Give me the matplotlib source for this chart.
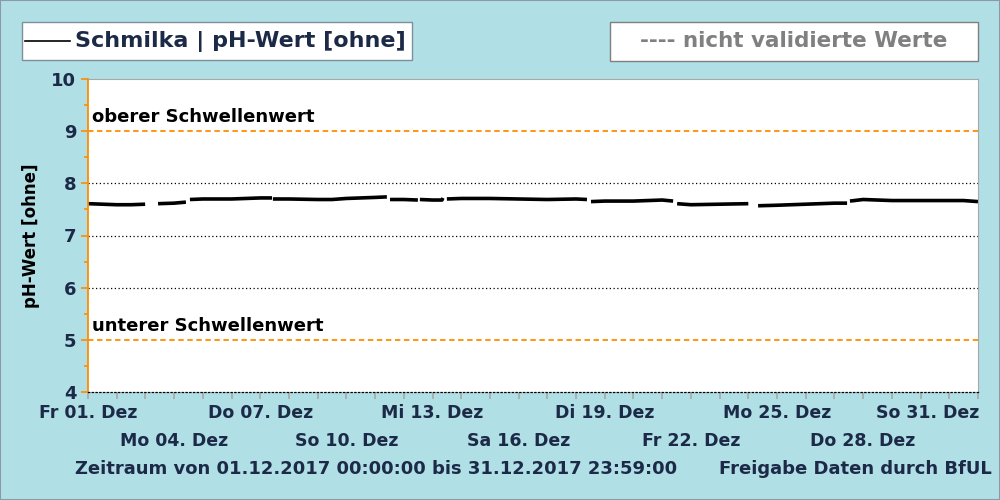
import matplotlib
matplotlib.use("Agg")
import matplotlib.pyplot as plt
import matplotlib.dates as mdates
from matplotlib.transforms import ScaledTranslation
from matplotlib.patches import Rectangle
from matplotlib.lines import Line2D
import numpy as np
import pandas as pd

# --- data (days after 01.12.2017 00:00, pH value); nan = gap in the record
days = [0.0, 0.5, 1.0, 1.5, 1.99, np.nan,
        2.44, 3.0, 3.41, np.nan,
        3.55, 4.0, 5.0, 5.5, 6.0, 6.41, np.nan,
        6.44, 7.0, 8.0, 8.5, 9.0, 10.0, 10.41, np.nan,
        10.52, 11.0, 11.49, np.nan,
        11.56, 12.0, 12.33, 12.36, np.nan,
        12.5, 13.0, 14.0, 15.0, 16.0, 17.0, 17.38, np.nan,
        17.52, 18.0, 19.0, 20.0, 20.38, np.nan,
        20.52, 21.0, 22.0, 23.0, np.nan,
        23.34, 24.0, 25.0, 26.0, 26.44, np.nan,
        26.54, 27.0, 28.0, 29.0, 30.0, 30.5, 31.0]
ph = [7.61, 7.60, 7.59, 7.59, 7.60, np.nan,
      7.61, 7.62, 7.64, np.nan,
      7.69, 7.70, 7.70, 7.71, 7.72, 7.72, np.nan,
      7.70, 7.70, 7.69, 7.69, 7.71, 7.73, 7.74, np.nan,
      7.69, 7.69, 7.68, np.nan,
      7.69, 7.68, 7.68, 7.72, np.nan,
      7.70, 7.71, 7.71, 7.70, 7.69, 7.70, 7.69, np.nan,
      7.65, 7.66, 7.66, 7.68, 7.66, np.nan,
      7.61, 7.59, 7.60, 7.61, np.nan,
      7.57, 7.58, 7.60, 7.62, 7.62, np.nan,
      7.66, 7.69, 7.67, 7.67, 7.67, 7.67, 7.65]

upper_limit = 9
lower_limit = 5
tick_labels = ["Fr 01. Dez", "Mo 04. Dez", "Do 07. Dez", "So 10. Dez", "Mi 13. Dez",
               "Sa 16. Dez", "Di 19. Dez", "Fr 22. Dez", "Mo 25. Dez", "Do 28. Dez",
               "So 31. Dez"]

start = pd.Timestamp("2017-12-01")
t0 = mdates.date2num(start.to_pydatetime())
x = t0 + np.array(days)

bg = "#b0dfe5"
navy = "#1c2a48"
orange = "#ff8c00"

plt.rcParams["font.family"] = "DejaVu Sans"
plt.rcParams["font.weight"] = "bold"

fig = plt.figure(figsize=(10, 5), dpi=100, facecolor=bg)
fig.patches.append(Rectangle((0, 0), 1, 1, transform=fig.transFigure, fill=False,
                             edgecolor="#8a9aa8", lw=1.5))
ax = fig.add_axes([0.088, 0.216, 0.89, 0.626])

ax.plot(x, ph, color="black", lw=2.6, solid_capstyle="butt")
ax.xaxis_date()

ax.set_ylim(4, 10)
ax.set_xlim(t0, t0 + 31)

# grid lines and limits
for v in [6, 7, 8]:
    ax.axhline(v, color="black", lw=0.9, ls=(0, (1, 2)))
for v in [upper_limit, lower_limit]:
    ax.axhline(v, color=orange, lw=1.3, ls=(0, (3, 2)))
ax.text(t0 + 0.15, upper_limit + 0.1, "oberer Schwellenwert",
        fontsize=13, fontweight="bold", color="black", va="bottom")
ax.text(t0 + 0.15, lower_limit + 0.1, "unterer Schwellenwert",
        fontsize=13, fontweight="bold", color="black", va="bottom")

# spines
ax.spines["left"].set_color(orange)
ax.spines["left"].set_linewidth(1.3)
ax.spines["top"].set_color("#a8a8a8")
ax.spines["right"].set_color("#a8a8a8")
ax.spines["bottom"].set_color("black")
ax.spines["bottom"].set_linestyle((0, (1, 2)))
ax.spines["bottom"].set_linewidth(0.9)

# y axis
ax.set_yticks(np.arange(4, 10.1, 1))
ax.set_yticks(np.arange(4.5, 10, 1), minor=True)
ax.tick_params(axis="y", which="major", colors=orange, length=5, width=1.2,
               labelcolor=navy, labelsize=13)
ax.tick_params(axis="y", which="minor", colors=orange, length=3, width=1.2)
ax.set_ylabel("pH-Wert [ohne]", fontsize=12, fontweight="bold", color="black", labelpad=8)

# x axis, labels staggered in two rows
ax.set_xticks(t0 + 3 * np.arange(len(tick_labels)))
ax.set_xticks(t0 + np.arange(32), minor=True)
ax.set_xticklabels(tick_labels)
ax.tick_params(axis="x", which="both", colors="#a8a8a8", length=5, width=1.2,
               labelcolor=navy, labelsize=12.5, pad=4)
for i, lab in enumerate(ax.get_xticklabels()):
    if i % 2 == 1:
        lab.set_transform(lab.get_transform() + ScaledTranslation(0, -0.27, fig.dpi_scale_trans))
last = ax.get_xticklabels()[-1]
last.set_horizontalalignment("right")
last.set_transform(last.get_transform() + ScaledTranslation(0.30, 0, fig.dpi_scale_trans))

# legend boxes
fig.patches.append(Rectangle((0.022, 0.880), 0.390, 0.076, transform=fig.transFigure,
                             facecolor="white", edgecolor="#7f8f99", lw=1))
fig.lines.append(Line2D([0.025, 0.070], [0.918, 0.918], transform=fig.transFigure,
                        color="black", lw=1.2))
fig.text(0.075, 0.918, "Schmilka | pH-Wert [ohne]", fontsize=16, fontweight="bold",
         color=navy, va="center", ha="left")
fig.patches.append(Rectangle((0.610, 0.878), 0.368, 0.078, transform=fig.transFigure,
                             facecolor="white", edgecolor="#7f7f7f", lw=1))
fig.text(0.794, 0.918, "---- nicht validierte Werte", fontsize=15.5, fontweight="bold",
         color="#808080", va="center", ha="center")

# footer
fig.text(0.376, 0.062, "Zeitraum von 01.12.2017 00:00:00 bis 31.12.2017 23:59:00",
         fontsize=13, fontweight="bold", color=navy, ha="center", va="center")
fig.text(0.992, 0.062, "Freigabe Daten durch BfUL", fontsize=13, fontweight="bold",
         color=navy, ha="right", va="center")

fig.savefig("out.png", dpi=100, facecolor=bg)
